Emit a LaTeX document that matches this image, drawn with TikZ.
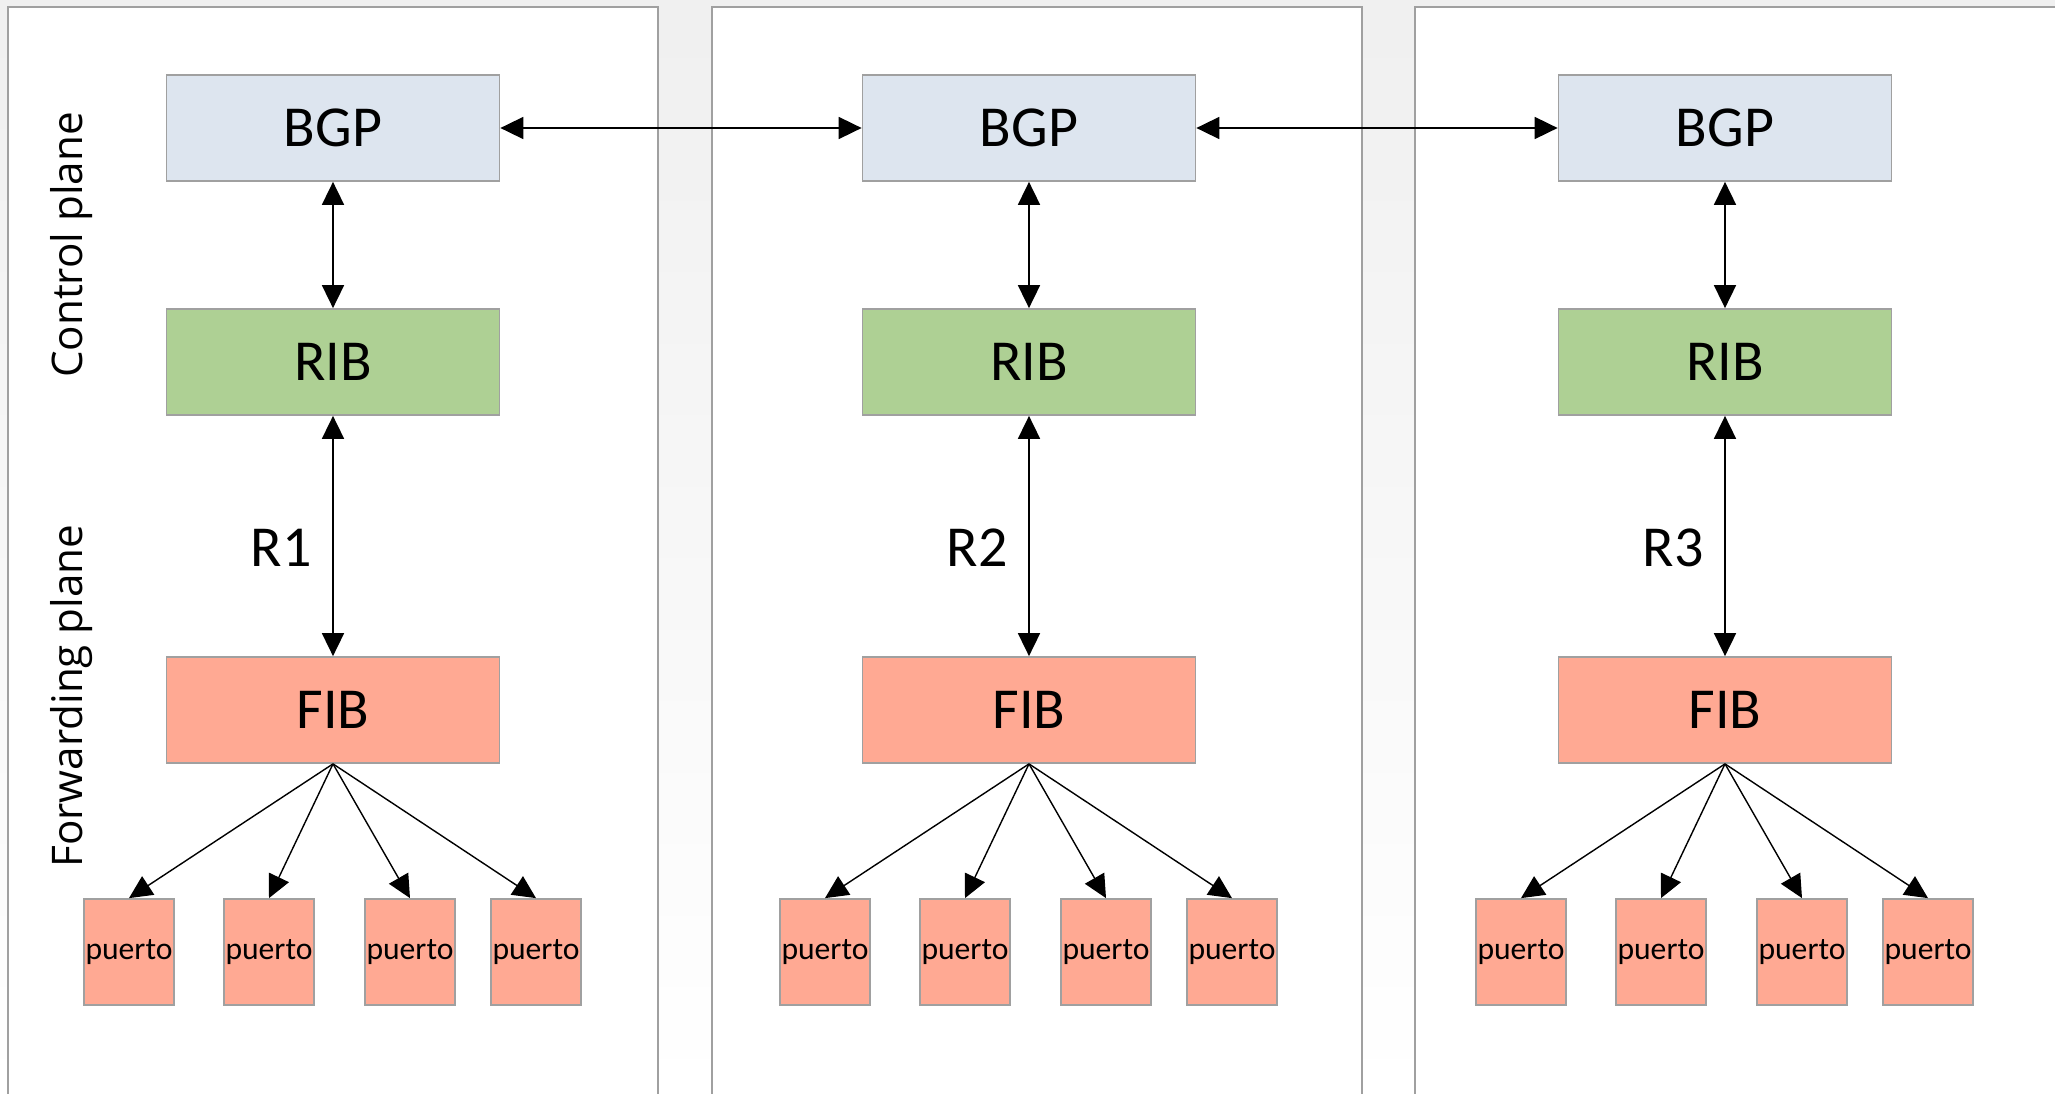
\documentclass[tikz,border=0pt]{standalone}
\usepackage{fontspec}
\setmainfont{Carlito}
\newfontfamily\planefont{Open Sans}
\usepackage{tikz}
\usetikzlibrary{arrows.meta,positioning}
\definecolor{bgpc}{HTML}{DDE5EF}
\definecolor{ribc}{HTML}{AED094}
\definecolor{fibc}{HTML}{FFA993}
\definecolor{edge}{HTML}{A0A0A0}

\begin{document}
\begin{tikzpicture}[
  box/.style={draw=edge,line width=0.5pt,minimum width=3.33cm,minimum height=1.06cm,inner sep=0pt,font=\fontsize{16.5}{18}\selectfont},
  port/.style={draw=edge,line width=0.5pt,fill=fibc,minimum width=0.9cm,minimum height=1.06cm,inner sep=0pt,font=\fontsize{9}{11}\selectfont},
  link/.style={{Triangle[length=2.3mm,width=2.2mm]}-{Triangle[length=2.3mm,width=2.2mm]},line width=0.5pt},
  fan/.style={-{Triangle[length=2.3mm,width=2.2mm]},line width=0.4pt},
  panel/.style={draw=edge,line width=0.6pt}]
\useasboundingbox (0,0) rectangle (20.55,-10.94);
\fill[top color=gray!12,bottom color=white] (0,0) rectangle (20.55,-10.94);

% router frames
\foreach \px in {0.08,7.12} {
  \fill[white] (\px,-10.94) rectangle (\px+6.5,-0.07);
  \draw[panel] (\px,-10.94) |- (\px+6.5,-0.07) -- (\px+6.5,-10.94);
}
\fill[white] (14.15,-10.94) rectangle (20.55,-0.07);
\draw[panel] (14.15,-10.94) |- (20.55,-0.07);

\node[font=\planefont\fontsize{12}{14}\selectfont,rotate=90] (ctrl) at (0.72,-2.45) {Control plane};
\node[font=\planefont\fontsize{12}{14}\selectfont,rotate=90] (fwd) at (0.72,-6.96) {Forwarding plane};

\foreach \i/\x in {1/3.33,2/10.29,3/17.25} {
  \node[box,fill=bgpc] (bgp\i) at (\x,-1.28) {BGP};
  \node[box,fill=ribc] (rib\i) at (\x,-3.62) {RIB};
  \node[box,fill=fibc] (fib\i) at (\x,-7.10) {FIB};
  \node[font=\fontsize{16.5}{18}\selectfont] (r\i) at (\x-0.52,-5.48) {R\i};
  \draw[link] (bgp\i.south) -- (rib\i.north);
  \draw[link] (rib\i.south) -- (fib\i.north);
  \foreach \j/\dx in {1/-2.04,2/-0.64,3/0.77,4/2.03} {
    \node[port] (p\i\j) at (\x+\dx,-9.52) {puerto};
    \draw[fan] (fib\i.south) -- (p\i\j.north);
  }
}

\draw[link] (bgp1.east) -- (bgp2.west);
\draw[link] (bgp2.east) -- (bgp3.west);
\end{tikzpicture}
\end{document}
